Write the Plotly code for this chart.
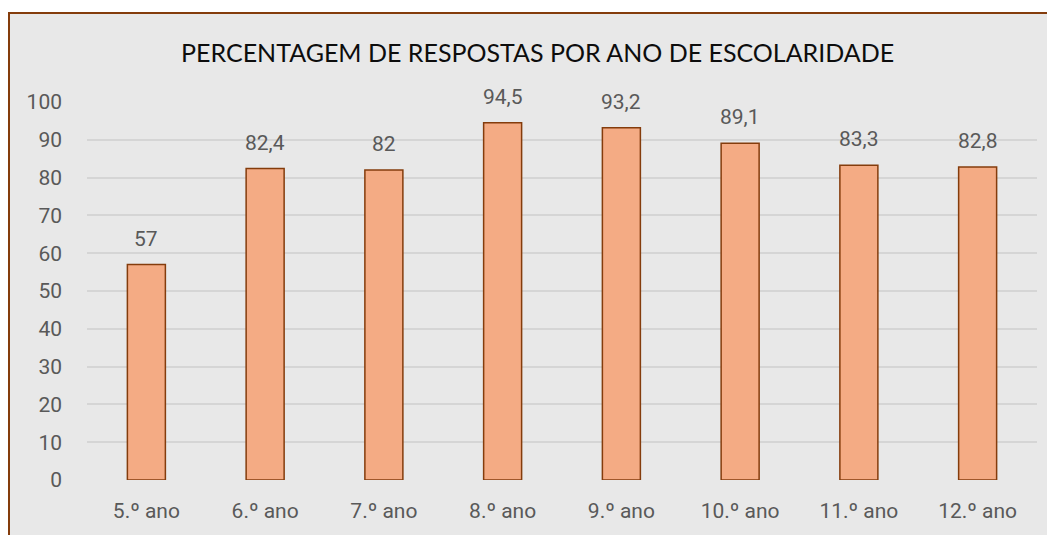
import plotly.graph_objects as go

categories = ["5.º ano", "6.º ano", "7.º ano", "8.º ano", "9.º ano", "10.º ano", "11.º ano", "12.º ano"]
values = [57, 82.4, 82, 94.5, 93.2, 89.1, 83.3, 82.8]
labels = ["57", "82,4", "82", "94,5", "93,2", "89,1", "83,3", "82,8"]
y_ticks = [0, 10, 20, 30, 40, 50, 60, 70, 80, 90, 100]

OFF = 8  # page body margin
W, H = 1055 - OFF, 535 - OFF
L, R, T, B = 87 - OFF, 18, 102 - OFF, 55
pw, ph = W - L - R, H - T - B

def px_x(p):
    return (p - OFF - L) / pw

def px_y(p):
    return (H - B - (p - OFF)) / ph

fig = go.Figure()
fig.add_trace(go.Bar(
    x=categories, y=values, width=0.32,
    marker=dict(color="#f4ab84", line=dict(color="#843c0c", width=1.5)),
    hoverinfo="skip",
))

for c, v, t in zip(categories, values, labels):
    fig.add_annotation(x=c, y=v, text=t, showarrow=False, yshift=26,
                       yanchor="middle", xanchor="center",
                       font=dict(family="Roboto", size=21, color="#595959"))

fig.add_shape(type="rect", xref="paper", yref="paper",
              x0=px_x(9), x1=px_x(1080), y0=px_y(560), y1=px_y(13),
              line=dict(color="#843c0c", width=2), fillcolor="#e8e8e8", layer="below")

fig.add_annotation(xref="paper", yref="paper", x=px_x(537.5), y=px_y(52),
                   text="PERCENTAGEM DE RESPOSTAS POR ANO DE ESCOLARIDADE",
                   showarrow=False, xanchor="center", yanchor="middle",
                   font=dict(family="Lato", size=25, color="#0d0d0d"))

fig.update_layout(
    width=W, height=H,
    margin=dict(l=L, r=R, t=T, b=B),
    paper_bgcolor="white", plot_bgcolor="rgba(0,0,0,0)",
    showlegend=False, bargap=0.68,
)
fig.update_yaxes(range=[0, 100], tickvals=y_ticks, showgrid=True,
                 gridcolor="#d5d5d5", gridwidth=1.5, zeroline=False,
                 showline=False, ticks="", ticklabelstandoff=24,
                 tickfont=dict(family="Roboto", size=21, color="#595959"))
fig.update_xaxes(showgrid=False, showline=False, ticks="", ticklabelstandoff=16,
                 tickfont=dict(family="Roboto", size=21, color="#595959"))

fig.write_html("out.html")
